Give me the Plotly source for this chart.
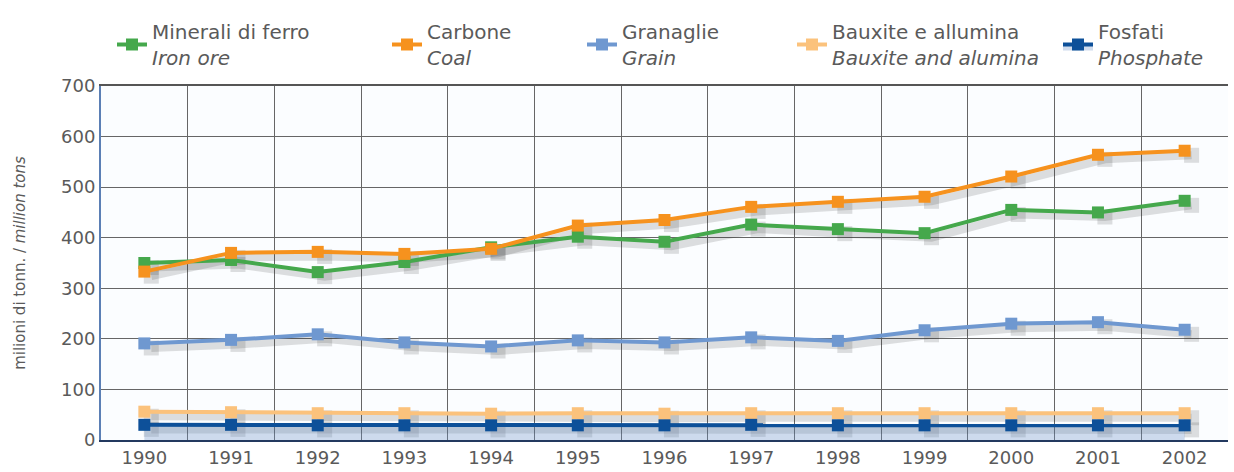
import plotly.graph_objects as go

# Annual tonnages, million tons
years = list(range(1990, 2003))
iron_ore = [350, 356, 332, 352, 381, 402, 392, 426, 417, 409, 455, 450, 473]
coal = [333, 370, 372, 368, 378, 424, 435, 461, 471, 481, 521, 564, 572]
grain = [191, 198, 209, 193, 185, 197, 193, 203, 196, 217, 230, 233, 218]
bauxite = [56, 55, 53, 53, 52, 53, 52, 53, 53, 53, 53, 53, 53]
phosphate = [30, 30, 29, 29, 29, 29, 29, 30, 29, 29, 29, 29, 29]

series = [
    ("Minerali di ferro", "Iron ore", iron_ore, "#45a84c"),
    ("Carbone", "Coal", coal, "#f6921e"),
    ("Granaglie", "Grain", grain, "#6f98d0"),
    ("Bauxite e allumina", "Bauxite and alumina", bauxite, "#fbc27c"),
    ("Fosfati", "Phosphate", phosphate, "#0d5099"),
]
# left edge (px) of each legend entry
legend_left = [112, 387, 582, 792, 1058]

FONT = "DejaVu Sans, Liberation Sans, sans-serif"
TEXT = "#5a5a5a"

fig = go.Figure()

# soft drop shadows under each line
for _, _, vals, _ in series:
    fig.add_trace(go.Scatter(
        x=[y + 0.08 for y in years], y=[v - 9 for v in vals],
        mode="lines+markers",
        line=dict(color="rgba(40,40,40,0.15)", width=8),
        marker=dict(symbol="square", size=15, color="rgba(40,40,40,0.15)"),
        showlegend=False, hoverinfo="skip",
    ))

legends = {}
for i, (name_it, name_en, vals, color) in enumerate(series):
    key = "legend" if i == 0 else f"legend{i + 1}"
    extra = {}
    if name_en == "Phosphate":
        extra = dict(fill="tozeroy", fillcolor="rgba(110,145,200,0.32)")
    fig.add_trace(go.Scatter(
        x=years, y=vals, mode="lines+markers",
        name=f"{name_it}<br><i>{name_en}</i>",
        line=dict(color=color, width=4),
        marker=dict(symbol="square", size=12, color=color),
        legend=key, **extra,
    ))
    legends[key] = dict(
        orientation="h", xref="container", yref="container",
        x=legend_left[i] / 1234, y=1 - 12 / 472,
        xanchor="left", yanchor="top",
        font=dict(size=20, color=TEXT, family=FONT),
        bgcolor="rgba(0,0,0,0)",
    )

# helper axis carrying the vertical grid between years
fig.add_trace(go.Scatter(x=[years[0]], y=[0], xaxis="x2", mode="markers",
                         marker=dict(opacity=0), showlegend=False, hoverinfo="skip"))

xr = [years[0] - 0.5, years[-1] + 0.5]
fig.update_layout(
    width=1234, height=472,
    margin=dict(l=101, r=6, t=86, b=32, autoexpand=False),
    paper_bgcolor="white", plot_bgcolor="#fbfdff",
    font=dict(family=FONT, color=TEXT, size=18),
    xaxis=dict(range=xr, tickvals=years, ticktext=[str(y) for y in years],
               showgrid=False, zeroline=False, ticks="",
               showline=True, linecolor="#23395f", linewidth=2,
               tickfont=dict(size=18, color=TEXT)),
    xaxis2=dict(range=xr, overlaying="x", side="top",
                tickvals=[y + 0.5 for y in years[:-1]],
                showgrid=True, gridcolor="#666666", gridwidth=1,
                showticklabels=False, ticks="", zeroline=False,
                showline=True, linecolor="#555555", linewidth=2),
    yaxis=dict(range=[0, 700], dtick=100, showgrid=True,
               gridcolor="#666666", gridwidth=1, zeroline=False,
               showline=True, linecolor="#5b7fb5", linewidth=2,
               ticks="", tickfont=dict(size=18, color=TEXT),
               title=dict(text="milioni di tonn. / <i>million tons</i>",
                          font=dict(size=15, color=TEXT), standoff=32)),
    showlegend=True,
    **legends,
)

fig.write_html("out.html")
